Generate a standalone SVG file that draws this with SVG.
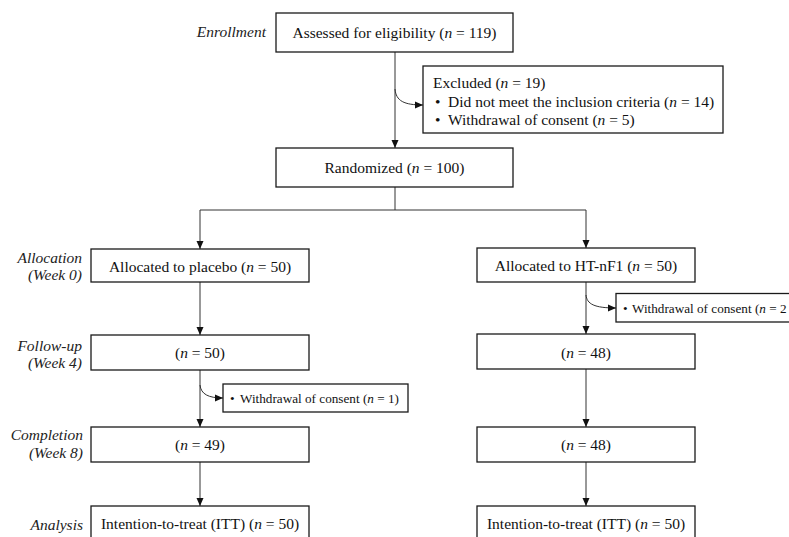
<svg xmlns="http://www.w3.org/2000/svg" width="789" height="537" viewBox="0 0 789 537">
<style>
.box{fill:#fff;stroke:#1a1a1a;stroke-width:1.3}
.t{font-family:"Liberation Serif","Times New Roman",serif;font-size:15.5px;fill:#111}
.s{font-family:"Liberation Serif","Times New Roman",serif;font-size:13.2px;fill:#111}
.c{text-anchor:middle}
.lab{font-family:"Liberation Serif","Times New Roman",serif;font-size:15.5px;font-style:italic;fill:#222;text-anchor:end}
.ln{fill:none;stroke:#333;stroke-width:1}
.i{font-style:italic}
</style>
<defs>
<marker id="ah" markerUnits="userSpaceOnUse" markerWidth="8" markerHeight="8" refX="8" refY="4" orient="auto">
<path d="M0,0.5 L8,4 L0,7.5 z" fill="#111"/>
</marker>
</defs>
<rect width="789" height="537" fill="#fff"/>

<g id="labels">
<text class="lab" x="266" y="37">Enrollment</text>
<text class="lab" x="82" y="263">Allocation</text>
<text class="lab" x="82" y="280">(Week 0)</text>
<text class="lab" x="82" y="351">Follow-up</text>
<text class="lab" x="82" y="368">(Week 4)</text>
<text class="lab" x="83" y="440">Completion</text>
<text class="lab" x="83" y="458">(Week 8)</text>
<text class="lab" x="83" y="530">Analysis</text>
</g>

<g id="connectors">
<line class="ln" x1="395" y1="52" x2="395" y2="148" marker-end="url(#ah)"/>
<path class="ln" d="M395,89 C396,101 404,105 423,105" marker-end="url(#ah)"/>
<line class="ln" x1="395" y1="187" x2="395" y2="210"/>
<line class="ln" x1="200" y1="210" x2="586" y2="210"/>
<line class="ln" x1="200" y1="210" x2="200" y2="249" marker-end="url(#ah)"/>
<line class="ln" x1="586" y1="210" x2="586" y2="248" marker-end="url(#ah)"/>
<line class="ln" x1="200" y1="282" x2="200" y2="335" marker-end="url(#ah)"/>
<line class="ln" x1="200" y1="370" x2="200" y2="427" marker-end="url(#ah)"/>
<path class="ln" d="M200,385 C201,394 208,398 223,398" marker-end="url(#ah)"/>
<line class="ln" x1="200" y1="462" x2="200" y2="506" marker-end="url(#ah)"/>
<line class="ln" x1="586" y1="282" x2="586" y2="334" marker-end="url(#ah)"/>
<path class="ln" d="M586,295 C587,304 594,308 616,308" marker-end="url(#ah)"/>
<line class="ln" x1="586" y1="369" x2="586" y2="427" marker-end="url(#ah)"/>
<line class="ln" x1="586" y1="462" x2="586" y2="506" marker-end="url(#ah)"/>
</g>

<g id="assessed">
<rect class="box" x="276" y="13" width="237" height="39"/>
<text class="t c" x="394.5" y="38">Assessed for eligibility (<tspan class="i">n</tspan> = 119)</text>
</g>

<g id="excluded">
<rect class="box" x="423" y="66" width="300" height="67"/>
<text class="t" x="433" y="88">Excluded (<tspan class="i">n</tspan> = 19)</text>
<text class="t" x="435" y="106.5">•</text>
<text class="t" x="448" y="106.5">Did not meet the inclusion criteria (<tspan class="i">n</tspan> = 14)</text>
<text class="t" x="435" y="125">•</text>
<text class="t" x="448" y="125">Withdrawal of consent (<tspan class="i">n</tspan> = 5)</text>
</g>

<g id="randomized">
<rect class="box" x="276" y="148" width="237" height="39"/>
<text class="t c" x="394.5" y="173">Randomized (<tspan class="i">n</tspan> = 100)</text>
</g>

<g id="placebo">
<rect class="box" x="91" y="249" width="218" height="33"/>
<text class="t c" x="200" y="271.5">Allocated to placebo (<tspan class="i">n</tspan> = 50)</text>
</g>

<g id="htnf1">
<rect class="box" x="477" y="248" width="218" height="34"/>
<text class="t c" x="586" y="271">Allocated to HT-nF1 (<tspan class="i">n</tspan> = 50)</text>
</g>

<g id="withdraw-right">
<rect class="box" x="616" y="293.5" width="200" height="28.5"/>
<text class="s" x="623" y="313">•</text>
<text class="s" x="632" y="313">Withdrawal of consent (<tspan class="i">n</tspan> = 2</text>
</g>

<g id="followup-left">
<rect class="box" x="91" y="335" width="218" height="35"/>
<text class="t c" x="200" y="358">(<tspan class="i">n</tspan> = 50)</text>
</g>

<g id="followup-right">
<rect class="box" x="477" y="334" width="218" height="35"/>
<text class="t c" x="586" y="357.5">(<tspan class="i">n</tspan> = 48)</text>
</g>

<g id="withdraw-left">
<rect class="box" x="223" y="384" width="185" height="28"/>
<text class="s" x="230" y="403">•</text>
<text class="s" x="240" y="403">Withdrawal of consent (<tspan class="i">n</tspan> = 1)</text>
</g>

<g id="completion-left">
<rect class="box" x="91" y="427" width="218" height="35"/>
<text class="t c" x="200" y="450">(<tspan class="i">n</tspan> = 49)</text>
</g>

<g id="completion-right">
<rect class="box" x="477" y="427" width="218" height="35"/>
<text class="t c" x="586" y="450">(<tspan class="i">n</tspan> = 48)</text>
</g>

<g id="itt-left">
<rect class="box" x="91" y="506" width="218" height="40"/>
<text class="t c" x="200" y="528.5">Intention-to-treat (ITT) (<tspan class="i">n</tspan> = 50)</text>
</g>

<g id="itt-right">
<rect class="box" x="477" y="506" width="218" height="40"/>
<text class="t c" x="586" y="528.5">Intention-to-treat (ITT) (<tspan class="i">n</tspan> = 50)</text>
</g>
</svg>
